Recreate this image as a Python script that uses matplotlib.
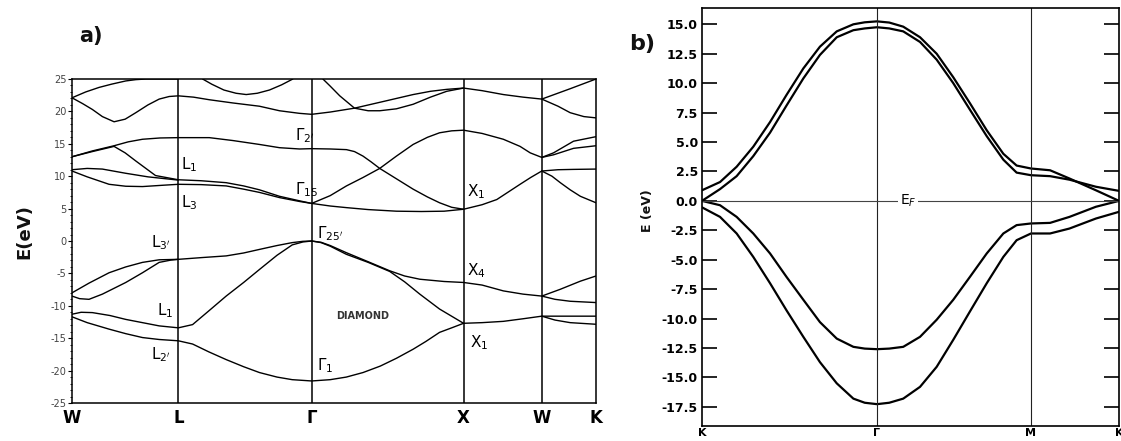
import matplotlib
matplotlib.use("Agg")
import matplotlib.pyplot as plt

plt.rcParams["font.family"] = ["DejaVu Sans"]
plt.rcParams["mathtext.fontset"] = "dejavusans"
plt.rcParams["axes.unicode_minus"] = False

# ---------------- a) diamond, path W-L-G-X-W-K ----------------
dia_ticks = [0.0, 0.70, 1.578, 2.578, 3.093, 3.45]
dia_tick_labels = ["W", "L", "Γ", "X", "W", "K"]

band_a_k = [0, 0.09, 0.178, 0.26, 0.354, 0.42, 0.487, 0.70]
band_a_e = [22.1, 23.0, 23.7, 24.2, 24.7, 24.9, 25.0, 25.0]

band_dip_k = [0.86, 0.92, 1.0, 1.08, 1.147, 1.22, 1.30, 1.38, 1.454]
band_dip_e = [25.0, 24.2, 23.3, 22.8, 22.6, 22.8, 23.3, 24.1, 25.0]

band_b_k = [0, 0.07, 0.134, 0.20, 0.277, 0.35, 0.42, 0.50, 0.574, 0.64, 0.70, 0.80, 0.904,
            1.06, 1.234, 1.366, 1.498, 1.578, 1.70, 1.86, 2.026, 2.136, 2.246, 2.36, 2.467,
            2.578, 2.70, 2.84, 2.97, 3.093, 3.28, 3.45]
band_b_e = [22.1, 21.2, 20.3, 19.2, 18.4, 18.8, 19.8, 21.0, 21.9, 22.3, 22.4, 22.2, 21.8,
            21.3, 20.8, 20.1, 19.7, 19.55, 19.9, 20.5, 21.4, 22.0, 22.6, 23.1, 23.4,
            23.6, 23.2, 22.6, 22.2, 21.9, 23.5, 25.0]

band_b2_k = [3.093, 3.20, 3.28, 3.37, 3.45]
band_b2_e = [21.9, 20.8, 19.8, 19.2, 19.0]

band_d_k = [1.652, 1.70, 1.763, 1.86, 1.95, 2.026, 2.136, 2.246, 2.36, 2.467, 2.578]
band_d_e = [25.0, 23.9, 22.4, 20.5, 20.1, 20.1, 20.4, 21.1, 22.2, 23.1, 23.6]

band_c1_k = [0, 0.134, 0.277, 0.37, 0.464, 0.58, 0.70, 0.904, 1.06, 1.234, 1.366, 1.498,
             1.578, 1.70, 1.807, 1.86, 1.916, 1.97, 2.026, 2.136, 2.246, 2.34, 2.42, 2.50,
             2.578]
band_c1_e = [13.0, 13.9, 14.7, 15.3, 15.7, 15.9, 15.95, 15.95, 15.5, 14.9, 14.4, 14.2,
             14.25, 14.2, 14.1, 13.8, 13.1, 12.2, 11.2, 9.6, 8.0, 6.8, 5.9, 5.2,
             4.9]

band_c2_k = [0, 0.134, 0.277, 0.35, 0.42, 0.55, 0.70, 0.85, 1.015, 1.13, 1.234, 1.366, 1.498,
             1.578, 1.70, 1.807, 1.916, 2.026, 2.136, 2.246, 2.34, 2.42, 2.50, 2.578,
             2.70, 2.84, 2.95, 3.017, 3.093, 3.17, 3.302, 3.45]
band_c2_e = [13.0, 13.8, 14.6, 13.6, 12.35, 10.1, 9.45, 9.3, 9.0, 8.5, 7.9, 6.9, 6.2,
             5.8, 7.0, 8.5, 9.8, 11.2, 13.1, 14.9, 16.0, 16.7, 17.0, 17.1,
             16.6, 15.7, 14.6, 13.6, 12.9, 13.6, 15.4, 16.1]

band_c3_k = [0, 0.10, 0.20, 0.354, 0.50, 0.62, 0.70]
band_c3_e = [11.0, 11.2, 11.1, 10.45, 9.9, 9.6, 9.4]

band_c4_k = [0, 0.10, 0.244, 0.354, 0.464, 0.596, 0.70, 0.85, 1.015, 1.13, 1.234, 1.366,
             1.498, 1.578, 1.70, 1.807, 1.95, 2.136, 2.30, 2.45, 2.578, 2.70, 2.797,
             2.95, 3.02, 3.093, 3.20, 3.30, 3.45]
band_c4_e = [10.8, 9.9, 8.75, 8.45, 8.4, 8.6, 8.75, 8.7, 8.5, 8.0, 7.5, 6.7,
             6.1, 5.8, 5.4, 5.15, 4.85, 4.6, 4.55, 4.6, 4.9, 5.6, 6.4,
             8.75, 9.8, 10.8, 11.0, 11.05, 11.1]

band_c5_k = [3.093, 3.16, 3.215, 3.28, 3.347, 3.45]
band_c5_e = [10.8, 10.0, 9.0, 7.9, 6.9, 5.9]

band_c6_k = [3.093, 3.17, 3.302, 3.45]
band_c6_e = [12.9, 13.3, 14.3, 14.7]

band_v1_k = [0, 0.112, 0.244, 0.354, 0.464, 0.574, 0.70, 0.86, 1.015, 1.13, 1.234, 1.35,
             1.45, 1.52, 1.578, 1.64, 1.70, 1.806, 1.95, 2.092, 2.19, 2.29, 2.45, 2.578,
             2.70, 2.84, 2.97, 3.093, 3.215, 3.347, 3.45]
band_v1_e = [-8.0, -6.5, -4.9, -4.0, -3.3, -2.9, -2.83, -2.55, -2.3, -1.85, -1.3, -0.7,
             -0.25, -0.05, 0.0, -0.2, -0.7, -1.8, -3.2, -4.6, -5.4, -5.9, -6.25, -6.4,
             -6.8, -7.7, -8.2, -8.5, -7.45, -6.2, -5.4]

band_v2_k = [0, 0.05, 0.112, 0.20, 0.354, 0.464, 0.574, 0.65, 0.70]
band_v2_e = [-8.5, -8.9, -9.0, -8.2, -6.4, -4.9, -3.3, -2.95, -2.83]

band_v3_k = [0, 0.06, 0.134, 0.25, 0.354, 0.464, 0.574, 0.70, 0.794, 0.90, 1.015, 1.13,
             1.234, 1.35, 1.45, 1.52, 1.578]
band_v3_e = [-11.3, -11.0, -11.05, -11.5, -12.1, -12.6, -13.1, -13.4, -12.9, -10.8, -8.5, -6.4,
             -4.4, -2.2, -0.6, -0.15, 0.0]

band_v4_k = [0, 0.10, 0.244, 0.354, 0.464, 0.574, 0.70, 0.794, 0.90, 1.015, 1.13, 1.234,
             1.35, 1.45, 1.578, 1.70, 1.806, 1.916, 2.03, 2.136, 2.246, 2.33, 2.42, 2.50,
             2.578, 2.70, 2.84, 2.97, 3.093, 3.20, 3.30, 3.45]
band_v4_e = [-11.7, -12.6, -13.6, -14.3, -14.9, -15.2, -15.4, -15.9, -17.1, -18.3, -19.4, -20.3,
             -21.0, -21.4, -21.6, -21.4, -21.0, -20.3, -19.3, -18.1, -16.7, -15.5, -14.1, -13.4,
             -12.7, -12.6, -12.4, -12.0, -11.6, -11.6, -11.6, -11.6]

band_v5_k = [1.578, 1.64, 1.70, 1.806, 1.95, 2.092, 2.19, 2.29, 2.42, 2.578]
band_v5_e = [0.0, -0.25, -0.8, -2.05, -3.3, -4.7, -6.3, -8.2, -10.5, -12.7]

band_v6_k = [3.093, 3.18, 3.28, 3.45]
band_v6_e = [-11.6, -12.2, -12.6, -12.85]

band_v7_k = [3.093, 3.18, 3.28, 3.45]
band_v7_e = [-8.5, -9.0, -9.3, -9.5]

dia_bands = [
    (band_a_k, band_a_e), (band_dip_k, band_dip_e), (band_b_k, band_b_e),
    (band_b2_k, band_b2_e), (band_d_k, band_d_e), (band_c1_k, band_c1_e),
    (band_c2_k, band_c2_e), (band_c3_k, band_c3_e), (band_c4_k, band_c4_e),
    (band_c5_k, band_c5_e), (band_c6_k, band_c6_e), (band_v1_k, band_v1_e),
    (band_v2_k, band_v2_e), (band_v3_k, band_v3_e), (band_v4_k, band_v4_e),
    (band_v5_k, band_v5_e), (band_v6_k, band_v6_e), (band_v7_k, band_v7_e),
]

# point labels: (text, k, E)
dia_labels = [
    (r"$\Gamma_{2'}$", 1.465, 16.3),
    (r"$\Gamma_{15}$", 1.465, 8.0),
    (r"$\Gamma_{25'}$", 1.61, 1.2),
    (r"$\Gamma_1$", 1.61, -19.3),
    (r"L$_1$", 0.72, 11.8),
    (r"L$_3$", 0.72, 5.9),
    (r"L$_{3'}$", 0.52, -0.3),
    (r"L$_1$", 0.56, -10.8),
    (r"L$_{2'}$", 0.52, -17.5),
    (r"X$_1$", 2.60, 7.6),
    (r"X$_4$", 2.60, -4.6),
    (r"X$_1$", 2.62, -15.7),
]

# ---------------- b) path K-G-M-K ----------------
hex_ticks = [0.0, 1.0, 1.88, 2.383]
hex_tick_labels = ["K", "Γ", "M", "K"]

hex_k = [0, 0.103, 0.198, 0.293, 0.389, 0.483, 0.579, 0.674, 0.77, 0.865, 0.93, 1.0,
         1.07, 1.15, 1.246, 1.341, 1.436, 1.531, 1.627, 1.722, 1.798, 1.88,
         1.989, 2.1, 2.251, 2.383]
up_outer_e = [0.9, 1.6, 2.9, 4.6, 6.7, 9.0, 11.25, 13.1, 14.4, 15.0, 15.17, 15.25,
              15.15, 14.8, 13.9, 12.5, 10.5, 8.3, 6.0, 4.0, 3.0, 2.75,
              2.6, 1.9, 0.9, 0.0]
up_inner_e = [0.0, 1.0, 2.1, 3.8, 5.8, 8.1, 10.4, 12.4, 13.9, 14.5, 14.65, 14.75,
              14.65, 14.4, 13.5, 12.0, 10.0, 7.75, 5.5, 3.5, 2.4, 2.18,
              2.1, 1.8, 1.2, 0.85]
lo_inner_e = [0.0, -0.37, -1.36, -2.77, -4.47, -6.46, -8.4, -10.3, -11.7, -12.4, -12.55, -12.6,
              -12.55, -12.4, -11.55, -10.1, -8.4, -6.46, -4.47, -2.77, -2.06, -1.92,
              -1.87, -1.36, -0.5, 0.0]
lo_outer_e = [-0.55, -1.36, -2.77, -4.76, -7.0, -9.3, -11.55, -13.7, -15.5, -16.8, -17.15, -17.27,
              -17.15, -16.8, -15.8, -14.1, -11.8, -9.4, -7.0, -4.76, -3.34, -2.77,
              -2.77, -2.35, -1.5, -0.93]

hex_bands = [up_outer_e, up_inner_e, lo_inner_e, lo_outer_e]
hex_yticks = [15.0, 12.5, 10.0, 7.5, 5.0, 2.5, 0.0, -2.5, -5.0, -7.5, -10.0,
              -12.5, -15.0, -17.5]

W, H = 1121, 441
fig = plt.figure(figsize=(W / 100, H / 100), dpi=100)


def box(l, t, r, b):
    return [l / W, 1 - b / H, (r - l) / W, (b - t) / H]


# ---- panel a ----
ax = fig.add_axes(box(72, 79, 596, 403))
for k, e in dia_bands:
    ax.plot(k, e, color="black", lw=1.0, solid_capstyle="round")
for x in dia_ticks[1:-1]:
    ax.axvline(x, color="black", lw=1.1)
ax.set_xlim(0, dia_ticks[-1])
ax.set_ylim(-25, 25)
ax.set_xticks(dia_ticks)
ax.set_xticklabels(dia_tick_labels, fontsize=12, fontweight="bold")
ax.tick_params(axis="x", length=0, pad=4)
ax.set_yticks(range(-25, 26, 5))
ax.set_yticks(range(-25, 26, 1), minor=True)
ax.tick_params(axis="y", which="major", direction="out", length=3, width=0.8,
               labelsize=7, labelcolor="#444444", pad=1)
ax.tick_params(axis="y", which="minor", direction="out", length=1.5, width=0.6)
for s in ax.spines.values():
    s.set_linewidth(1.1)
for txt, k, e in dia_labels:
    ax.text(k, e, txt, fontsize=11, ha="left", va="center")
ax.text(1.914, -11.5, "DIAMOND", fontsize=7, fontweight="bold", color="#333333",
        ha="center", va="center")

fig.text(24 / W, 1 - 232 / H, "E(eV)", rotation=90, ha="center", va="center",
         fontsize=13, fontweight="bold", color="#111111")
fig.text(91 / W, 1 - 36 / H, "a)", ha="center", va="center",
         fontsize=15, fontweight="bold", color="#111111")

# ---- panel b ----
bx = fig.add_axes(box(702, 8.3, 1119, 425.7))
for e in hex_bands:
    bx.plot(hex_k, e, color="black", lw=1.6, solid_capstyle="round")
for x in hex_ticks[1:-1]:
    bx.axvline(x, color="#222222", lw=0.8)
bx.axhline(0, color="#444444", lw=0.8)
bx.set_xlim(0, hex_ticks[-1])
bx.set_ylim(-19.1, 16.36)
bx.set_xticks(hex_ticks)
bx.set_xticklabels(hex_tick_labels, fontsize=8, fontweight="bold")
bx.tick_params(axis="x", length=0, pad=1.5)
bx.set_yticks(hex_yticks)
bx.set_yticklabels([f"{v:.1f}" for v in hex_yticks])
bx.tick_params(axis="y", direction="in", length=11, width=1.2, labelsize=9,
               right=True, pad=3)
for lab in bx.get_yticklabels():
    lab.set_fontweight("bold")
for s in bx.spines.values():
    s.set_linewidth(1.2)
bx.text(1.13, 0.0, r"E$_F$", fontsize=10, ha="left", va="center",
        bbox=dict(facecolor="white", edgecolor="none", pad=1.0))

fig.text(648 / W, 1 - 211 / H, "E (eV)", rotation=90, ha="center", va="center",
         fontsize=9, fontweight="bold", color="#111111")
fig.text(642 / W, 1 - 44 / H, "b)", ha="center", va="center",
         fontsize=16, fontweight="bold", color="#111111")

fig.savefig("out.png", dpi=100)
